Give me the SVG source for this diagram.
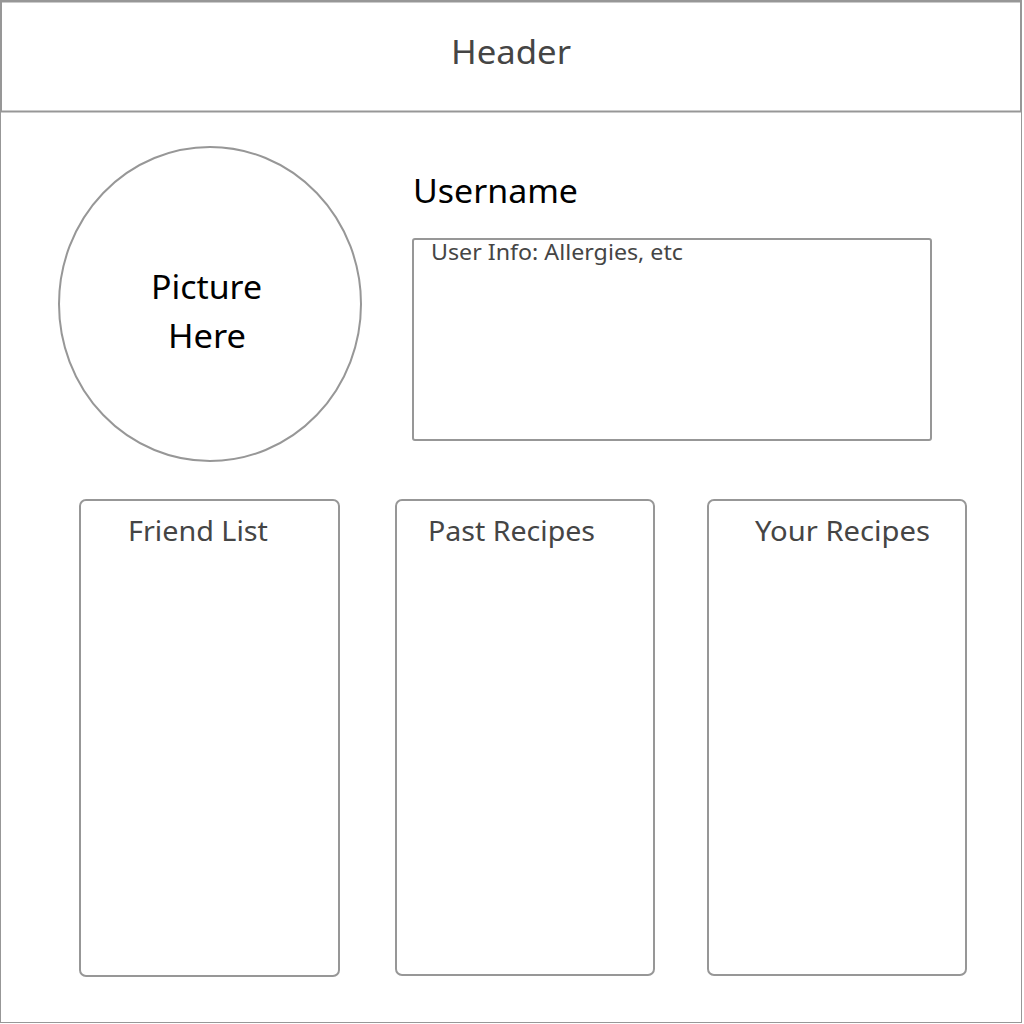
<svg xmlns="http://www.w3.org/2000/svg" width="1024" height="1024" viewBox="0 0 1024 1024">
  <style>
    .box { fill: #ffffff; stroke: #979797; stroke-width: 2; }
    .label { font-family: "Noto Sans", "Lato", sans-serif; fill: #454545; }
    .dark { font-family: "Noto Sans", "Lato", sans-serif; fill: #000000; }
  </style>
  <rect x="0" y="0" width="1024" height="1024" fill="#ffffff"/>
  <!-- page frame -->
  <rect x="0.5" y="0.5" width="1021" height="1022" fill="none" stroke="#979797" stroke-width="1"/>

  <g id="header">
    <rect class="box" x="1" y="1.5" width="1020" height="110" stroke-width="2.5"/>
    <text class="label" x="451" y="64" font-size="33" textLength="120" lengthAdjust="spacingAndGlyphs">Header</text>
  </g>

  <g id="picture">
    <ellipse class="box" cx="210" cy="304" rx="151" ry="157"/>
    <text class="dark" x="151" y="299" font-size="32" textLength="111" lengthAdjust="spacingAndGlyphs">Picture</text>
    <text class="dark" x="168" y="348" font-size="32" textLength="78" lengthAdjust="spacingAndGlyphs">Here</text>
  </g>

  <g id="username">
    <text class="dark" x="413" y="203" font-size="33" textLength="165" lengthAdjust="spacingAndGlyphs">Username</text>
  </g>

  <g id="user-info">
    <rect class="box" x="413" y="239" width="518" height="201" rx="2"/>
    <text class="label" x="431" y="260" font-size="22" textLength="252" lengthAdjust="spacingAndGlyphs">User Info: Allergies, etc</text>
  </g>

  <g id="friend-list">
    <rect class="box" x="80" y="500" width="259" height="476" rx="6"/>
    <text class="label" x="128" y="541" font-size="28" textLength="140" lengthAdjust="spacingAndGlyphs">Friend List</text>
  </g>

  <g id="past-recipes">
    <rect class="box" x="396" y="500" width="258" height="475" rx="6" stroke-width="2.5"/>
    <text class="label" x="428" y="541" font-size="28" textLength="167" lengthAdjust="spacingAndGlyphs">Past Recipes</text>
  </g>

  <g id="your-recipes">
    <rect class="box" x="708" y="500" width="258" height="475" rx="6" stroke-width="2.5"/>
    <text class="label" x="755" y="541" font-size="28" textLength="175" lengthAdjust="spacingAndGlyphs">Your Recipes</text>
  </g>

  <g id="connectors"/>
</svg>
